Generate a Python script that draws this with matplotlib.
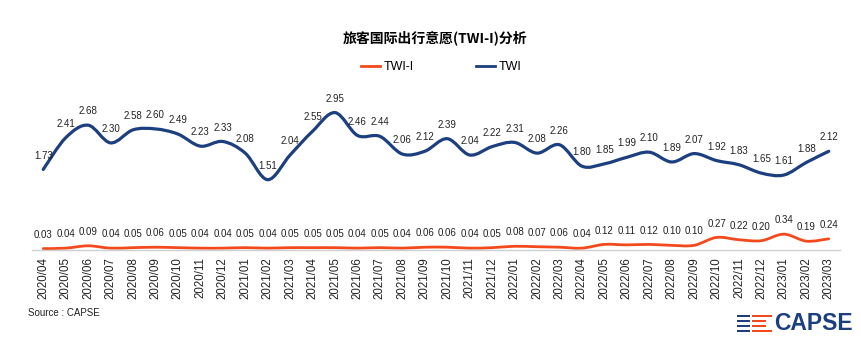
import numpy as np
import matplotlib
matplotlib.use('Agg')
import matplotlib.pyplot as plt
from matplotlib.path import Path
from matplotlib.patches import PathPatch, Rectangle
from matplotlib.lines import Line2D

plt.rcParams['font.family'] = ['Liberation Sans', 'Noto Sans CJK SC', 'DejaVu Sans']

# 数据
months = ['2020/04', '2020/05', '2020/06', '2020/07', '2020/08', '2020/09', '2020/10', '2020/11', '2020/12',
          '2021/01', '2021/02', '2021/03', '2021/04', '2021/05', '2021/06', '2021/07', '2021/08', '2021/09',
          '2021/10', '2021/11', '2021/12', '2022/01', '2022/02', '2022/03', '2022/04', '2022/05', '2022/06',
          '2022/07', '2022/08', '2022/09', '2022/10', '2022/11', '2022/12', '2023/01', '2023/02', '2023/03']
twi = [1.73, 2.41, 2.68, 2.30, 2.58, 2.60, 2.49, 2.23, 2.33, 2.08, 1.51, 2.04, 2.55, 2.95, 2.46, 2.44, 2.06, 2.12,
       2.39, 2.04, 2.22, 2.31, 2.08, 2.26, 1.80, 1.85, 1.99, 2.10, 1.89, 2.07, 1.92, 1.83, 1.65, 1.61, 1.88, 2.12]
twi_i = [0.03, 0.04, 0.09, 0.04, 0.05, 0.06, 0.05, 0.04, 0.04, 0.05, 0.04, 0.05, 0.05, 0.05, 0.04, 0.05, 0.04, 0.06,
         0.06, 0.04, 0.05, 0.08, 0.07, 0.06, 0.04, 0.12, 0.11, 0.12, 0.10, 0.10, 0.27, 0.22, 0.20, 0.34, 0.19, 0.24]

NAVY = '#1c3f80'
ORANGE = '#f24a1c'
W, H = 861, 347


def smooth_path(x, y):
    # 类似Excel的平滑线：Catmull-Rom转贝塞尔
    x = np.asarray(x, float)
    y = np.asarray(y, float)
    verts = [(x[0], y[0])]
    codes = [Path.MOVETO]
    n = len(x)
    for i in range(n - 1):
        p0 = (x[max(i - 1, 0)], y[max(i - 1, 0)])
        p1 = (x[i], y[i])
        p2 = (x[i + 1], y[i + 1])
        p3 = (x[min(i + 2, n - 1)], y[min(i + 2, n - 1)])
        c1 = (p1[0] + (p2[0] - p0[0]) / 6, p1[1] + (p2[1] - p0[1]) / 6)
        c2 = (p2[0] - (p3[0] - p1[0]) / 6, p2[1] - (p3[1] - p1[1]) / 6)
        verts += [c1, c2, p2]
        codes += [Path.CURVE4] * 3
    return Path(verts, codes)


fig = plt.figure(figsize=(W / 100, H / 100), dpi=100)
ax = fig.add_axes([32 / W, (H - 250) / H, (840 - 32) / W, (250 - 87) / H])

x = np.arange(len(months))
ax.add_patch(PathPatch(smooth_path(x, twi), fill=False, edgecolor=NAVY, lw=2.3, capstyle='round'))
ax.add_patch(PathPatch(smooth_path(x, twi_i), fill=False, edgecolor=ORANGE, lw=2.0, capstyle='round'))

for xi, v in zip(x, twi):
    ax.annotate(f'{v:.2f}', (xi, v), xytext=(0, 10), textcoords='offset points',
                ha='center', va='center', fontsize=7, color='#222222')
for xi, v in zip(x, twi_i):
    ax.annotate(f'{v:.2f}', (xi, v), xytext=(0, 10), textcoords='offset points',
                ha='center', va='center', fontsize=7, color='#222222')

ax.set_xlim(-0.5, len(months) - 0.5)
ax.set_ylim(0, 3.5)
ax.set_xticks(x)
ax.set_xticklabels(months, rotation=90, fontsize=8.3, color='#222222')
ax.tick_params(axis='x', length=0, pad=5)
ax.set_yticks([])
for s in ['top', 'right', 'left']:
    ax.spines[s].set_visible(False)
ax.spines['bottom'].set_color('#d0d0d0')
ax.spines['bottom'].set_linewidth(1)

# 标题和图例
fig.text(435 / W, 1 - 38 / H, '旅客国际出行意愿(TWI-I)分析', ha='center', va='center',
         fontsize=10, fontweight='bold', family=['Noto Sans CJK SC', 'DejaVu Sans'])
handles = [Line2D([], [], color=ORANGE, lw=2), Line2D([], [], color=NAVY, lw=2)]
fig.legend(handles, ['TWI-I', 'TWI'], loc='center', bbox_to_anchor=(441 / W, 1 - 67 / H), ncol=2,
           frameon=False, fontsize=9, handlelength=1.5, handletextpad=0.3, columnspacing=5.0)

fig.text(28 / W, 1 - 313 / H, 'Source : CAPSE', ha='left', va='center', fontsize=7, color='#222222')

# CAPSE 标志
fig.text(774 / W, 1 - 323 / H, 'CAPSE', ha='left', va='center', fontsize=16.5, fontweight='bold', color=NAVY)
rows = [(315, 752, 772), (320, 752, 766), (325, 752, 766), (330, 752, 772)]
for y0, xo0, xo1 in rows:
    fig.add_artist(Rectangle((737 / W, 1 - (y0 + 2) / H), 13 / W, 2.2 / H, transform=fig.transFigure,
                             color=NAVY, lw=0))
    fig.add_artist(Rectangle((xo0 / W, 1 - (y0 + 2) / H), (xo1 - xo0) / W, 2.2 / H, transform=fig.transFigure,
                             color=ORANGE, lw=0))

fig.savefig('out.png', dpi=100)
